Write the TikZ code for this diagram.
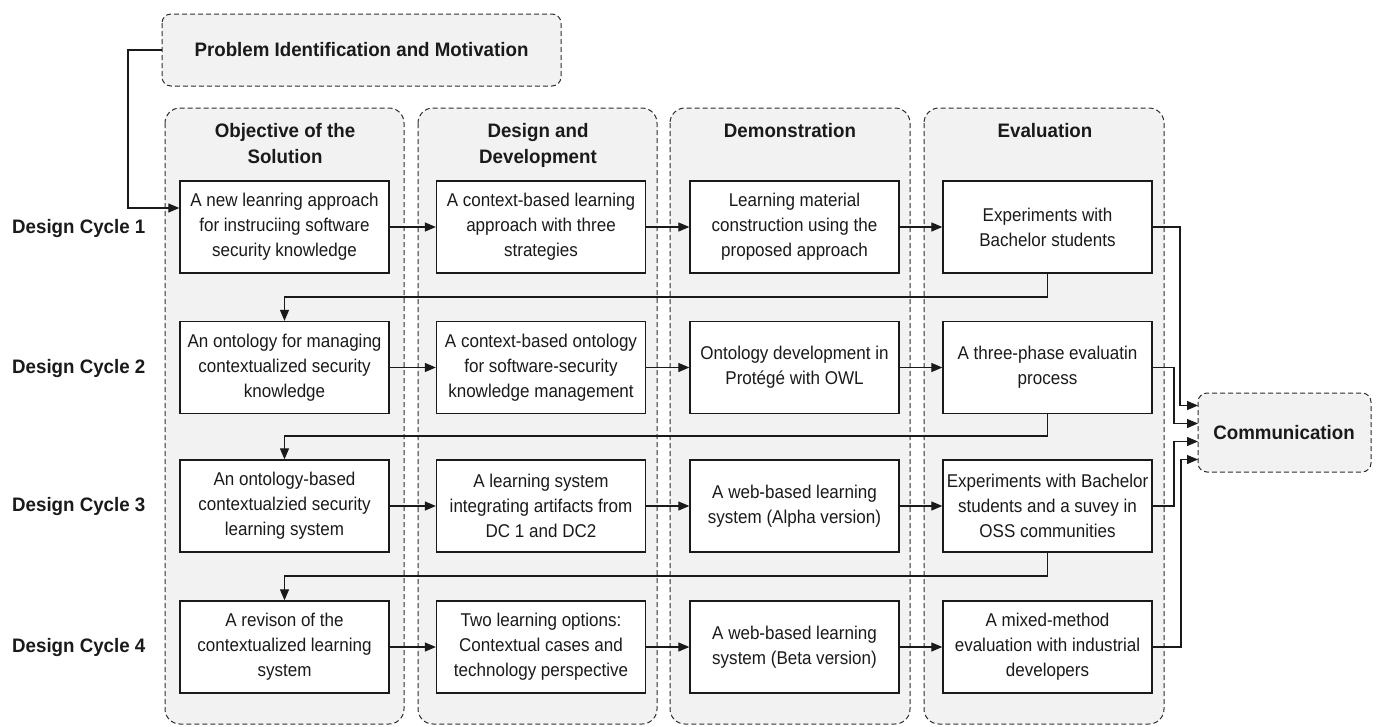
\documentclass[tikz,border=0pt]{standalone}
\usepackage{fontspec}
\setmainfont{Liberation Sans}[FakeStretch=0.92]
\newfontfamily\headfont{Liberation Sans}[FakeStretch=0.96]
\usetikzlibrary{arrows.meta,calc}

\definecolor{panelfill}{HTML}{F2F2F2}
\definecolor{dashline}{HTML}{2E2E2E}
\definecolor{ink}{HTML}{1A1A1A}

\tikzset{
  panel/.style={draw=dashline, fill=panelfill, line width=1pt,
    dash pattern=on 5pt off 3pt, rounded corners=15pt},
  smallpanel/.style={panel, rounded corners=9pt},
  heading/.style={font=\headfont\fontsize{19.5}{26}\selectfont\bfseries, text=ink, align=center, inner sep=0pt},
  stepbox/.style={draw=ink, fill=white, line width=1.3pt, minimum width=209pt,
    minimum height=92pt, inner sep=0pt, align=center, text=ink,
    font=\fontsize{18.5}{25}\selectfont},
  cyclelabel/.style={font=\headfont\fontsize{19.5}{26}\selectfont\bfseries, text=ink, anchor=west, inner sep=0pt},
  flow/.style={draw=ink, line width=1.2pt, -{Triangle[length=11pt,width=9pt]}},
}

\begin{document}
\begin{tikzpicture}[x=1pt,y=-1pt]
\useasboundingbox (0,0) rectangle (1378,726);

% activity columns
\path[panel] (165,108) rectangle (404,724);
\path[panel] (418,108) rectangle (657,724);
\path[panel] (670,108) rectangle (910,724);
\path[panel] (924,108) rectangle (1164,724);

% headings of the columns
\node[heading] (h1) at (285,144) {Objective of the\\Solution};
\node[heading] (h2) at (538,145) {Design and\\Development};
\node[heading] (h3) at (790,131) {Demonstration};
\node[heading] (h4) at (1045,131) {Evaluation};

% problem and communication boxes
\path[smallpanel] (162,14) rectangle (561,86);
\node[heading] (prob) at (361.5,50) {Problem Identification and Motivation};
\coordinate (probw) at (162,50);
\path[smallpanel] (1198,393) rectangle (1371,472);
\node[heading] (comm) at (1284,432.5) {Communication};
\coordinate (commw) at (1198,432.5);

% cycle labels
\node[cyclelabel] (dc1) at (12,228) {Design Cycle 1};
\node[cyclelabel] (dc2) at (12,368) {Design Cycle 2};
\node[cyclelabel] (dc3) at (12,506) {Design Cycle 3};
\node[cyclelabel] (dc4) at (12,647) {Design Cycle 4};

% design cycle 1
\node[stepbox] (b11) at (284.5,227) {A new leanring approach\\for instruciing software\\security knowledge};
\node[stepbox] (b12) at (541,227) {A context-based learning\\approach with three\\strategies};
\node[stepbox] (b13) at (794.5,227) {Learning material\\construction using the\\proposed approach};
\node[stepbox] (b14) at (1047.5,227) {Experiments with\\Bachelor students};
% design cycle 2
\node[stepbox] (b21) at (284.5,367.5) {An ontology for managing\\contextualized security\\knowledge};
\node[stepbox] (b22) at (541,367.5) {A context-based ontology\\for software-security\\knowledge management};
\node[stepbox] (b23) at (794.5,367.5) {Ontology development in\\Protégé with OWL};
\node[stepbox] (b24) at (1047.5,367.5) {A three-phase evaluatin\\process};
% design cycle 3
\node[stepbox] (b31) at (284.5,506) {An ontology-based\\contextualzied security\\learning system};
\node[stepbox] (b32) at (541,506) {A learning system\\integrating artifacts from\\DC 1 and DC2};
\node[stepbox] (b33) at (794.5,506) {A web-based learning\\system (Alpha version)};
\node[stepbox] (b34) at (1047.5,506) {Experiments with Bachelor\\students and a suvey in\\OSS communities};
% design cycle 4
\node[stepbox] (b41) at (284.5,647) {A revison of the\\contextualized learning\\system};
\node[stepbox] (b42) at (541,647) {Two learning options:\\Contextual cases and\\technology perspective};
\node[stepbox] (b43) at (794.5,647) {A web-based learning\\system (Beta version)};
\node[stepbox] (b44) at (1047.5,647) {A mixed-method\\evaluation with industrial\\developers};

% entry from the problem box
\draw[flow] (probw) -- (128,50) |- ($(b11.west)+(0,-19)$);

% flow inside each cycle
\foreach \r in {1,2,3,4}{
  \draw[flow] (b\r1.east) -- (b\r2.west);
  \draw[flow] (b\r2.east) -- (b\r3.west);
  \draw[flow] (b\r3.east) -- (b\r4.west);
}

% feedback into the next cycle
\draw[flow] (b14.south) |- (284.5,297) -- (b21.north);
\draw[flow] (b24.south) |- (284.5,436) -- (b31.north);
\draw[flow] (b34.south) |- (284.5,576) -- (b41.north);

% results go to communication
\draw[flow] (b14.east) -- (1180,227) |- ($(commw)+(0,-27)$);
\draw[flow] (b24.east) -- (1174,367.5) |- ($(commw)+(0,-9)$);
\draw[flow] (b34.east) -- (1174,506) |- ($(commw)+(0,9)$);
\draw[flow] (b44.east) -- (1181,647) |- ($(commw)+(0,27)$);
\end{tikzpicture}
\end{document}
